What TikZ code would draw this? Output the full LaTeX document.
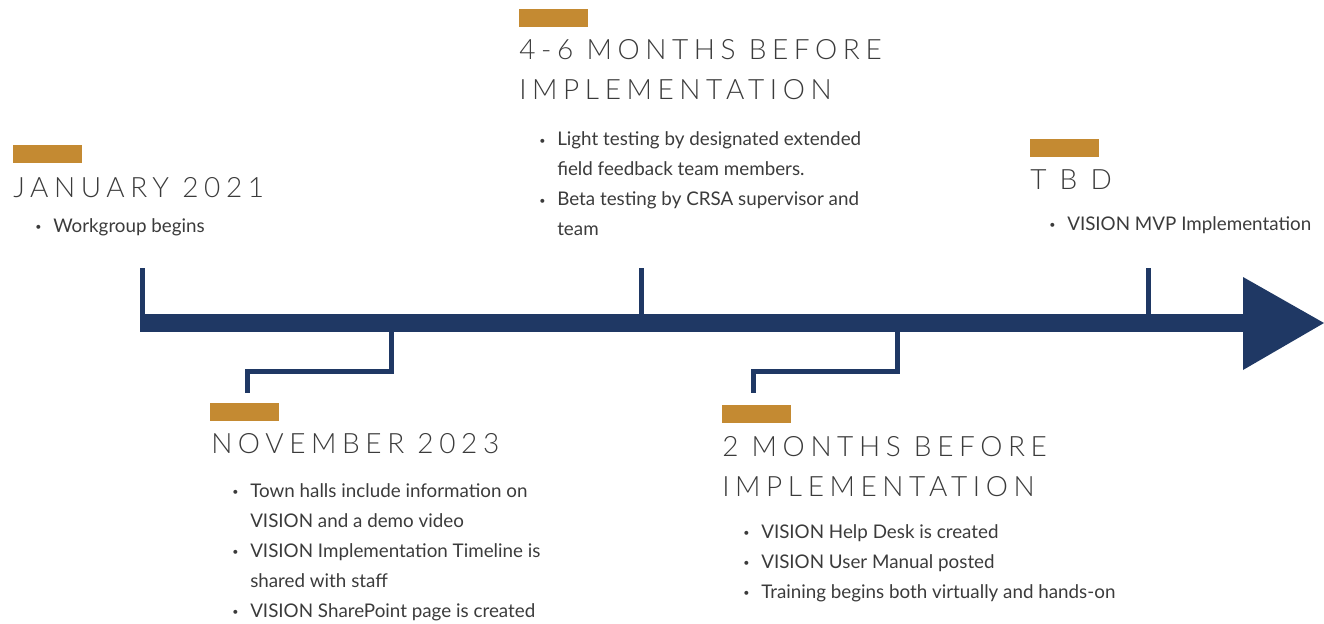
\documentclass[tikz,border=0pt]{standalone}
\usepackage{fontspec}
\setmainfont{Lato}
\newfontfamily\headfont{Lato Light}[LetterSpace=20]
\usetikzlibrary{positioning}

\definecolor{navy}{HTML}{1F3864}
\definecolor{gold}{HTML}{C48A32}
\definecolor{ink}{HTML}{3B3B3B}
\newcommand{\bul}{\makebox[13.5pt][l]{\raisebox{1pt}{\fontsize{8}{8}\selectfont\textbullet}}}

\begin{document}
\begin{tikzpicture}[
    x=0.75pt, y=-0.75pt,
    markbar/.style={fill=gold, minimum width=51.75pt, minimum height=13.5pt, inner sep=0pt},
    heading/.style={anchor=base west, inner sep=0pt, text=ink, font=\headfont\fontsize{21}{30}\selectfont},
    items/.style={anchor=base west, inner sep=0pt, text=ink, font=\fontsize{14.1}{22.5}\selectfont},
    stem/.style={draw=navy, line width=3.75pt},
    axis/.style={draw=navy, line width=13.5pt}
]
    \useasboundingbox (0,0) rectangle (1324,624);

    % main time axis
    \coordinate (axis_start) at (140,323);
    \coordinate (axis_end) at (1245,323);
    \coordinate (tip_top) at (1243,277);
    \coordinate (tip) at (1324,323);
    \coordinate (tip_bot) at (1243,370);
    \draw[axis] (axis_start) -- (axis_end);
    \fill[navy] (tip_top) -- (tip) -- (tip_bot) -- cycle;

    % ticks above the axis
    \coordinate (jan_tick) at (142.5,268);
    \coordinate (four_tick) at (641,268);
    \coordinate (tbd_tick) at (1148.5,268);
    \foreach \t in {jan_tick, four_tick, tbd_tick}
        \draw[stem] (\t) -- (\t |- axis_start);

    % stems below the axis
    \coordinate (nov_root) at (391,323);
    \coordinate (nov_end) at (247,393);
    \coordinate (two_root) at (897,323);
    \coordinate (two_end) at (753,393);
    \draw[stem] (nov_root) -- ++(0,48) -| (nov_end);
    \draw[stem] (two_root) -- ++(0,48) -| (two_end);

    % gold markers
    \node[markbar] (jan_bar) at (47.5,154) {};
    \node[markbar] (four_bar) at (553.5,18.5) {};
    \node[markbar] (tbd_bar) at (1064,148) {};
    \node[markbar] (nov_bar) at (244.5,411.5) {};
    \node[markbar] (two_bar) at (756,414) {};

    % headings
    \node[heading] (jan) at (13,197) {JANUARY 2021};
    \node[heading] (four) at (519,60) {\begin{tabular}[t]{@{}l@{}}4-6 MONTHS BEFORE\\IMPLEMENTATION\end{tabular}};
    \node[heading] (tbd) at (1030,190) {T B D};
    \node[heading] (nov) at (211,453) {NOVEMBER 2023};
    \node[heading] (two) at (722,456) {\begin{tabular}[t]{@{}l@{}}2 MONTHS BEFORE\\IMPLEMENTATION\end{tabular}};

    % bullet lists
    \node[items] (jan_list) at (35,232) {\begin{tabular}[t]{@{}l@{}l@{}}
        \bul & Workgroup begins
    \end{tabular}};
    \node[items] (four_list) at (539,146) {\begin{tabular}[t]{@{}l@{}l@{}}
        \bul & Light testing by designated extended\\
             & field feedback team members.\\
        \bul & Beta testing by CRSA supervisor and\\
             & team
    \end{tabular}};
    \node[items] (tbd_list) at (1049,230) {\begin{tabular}[t]{@{}l@{}l@{}}
        \bul & VISION MVP Implementation
    \end{tabular}};
    \node[items] (nov_list) at (232,497) {\begin{tabular}[t]{@{}l@{}l@{}}
        \bul & Town halls include information on\\
             & VISION and a demo video\\
        \bul & VISION Implementation Timeline is\\
             & shared with staff\\
        \bul & VISION SharePoint page is created
    \end{tabular}};
    \node[items] (two_list) at (743,538) {\begin{tabular}[t]{@{}l@{}l@{}}
        \bul & VISION Help Desk is created\\
        \bul & VISION User Manual posted\\
        \bul & Training begins both virtually and hands-on
    \end{tabular}};
\end{tikzpicture}
\end{document}
